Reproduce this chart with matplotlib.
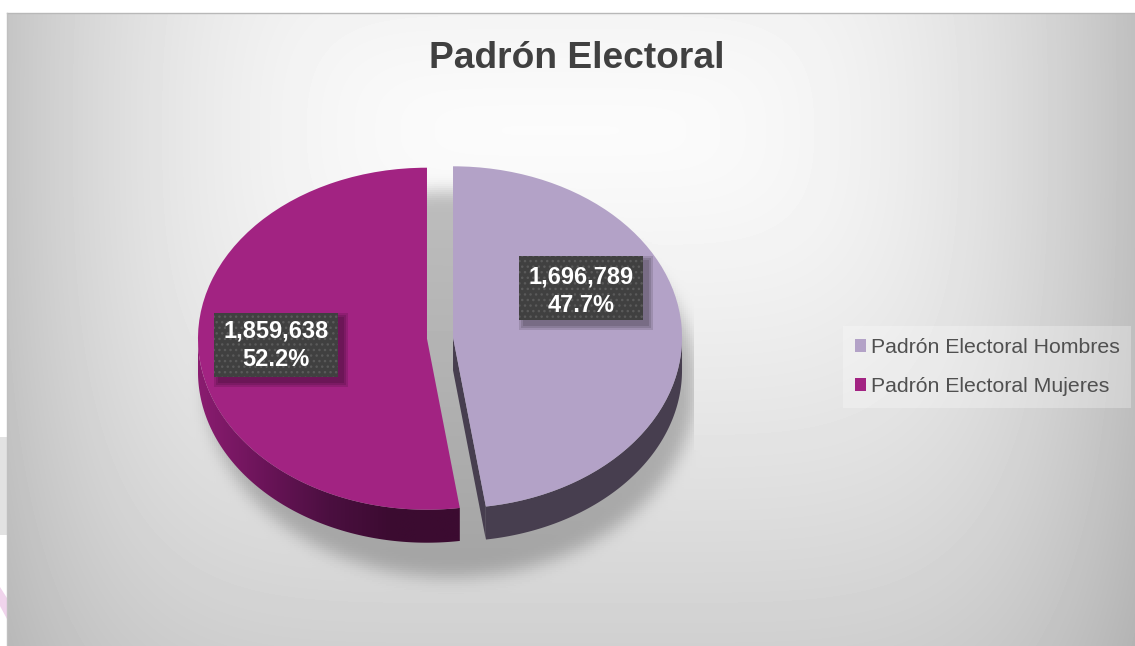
import numpy as np
import matplotlib
matplotlib.use("Agg")
import matplotlib.pyplot as plt
from matplotlib.colors import LinearSegmentedColormap
from matplotlib.patches import Polygon, Rectangle
from matplotlib.path import Path

plt.rcParams['font.family'] = ['Liberation Sans', 'DejaVu Sans']
plt.rcParams['hatch.linewidth'] = 1.0

title = "Padrón Electoral"
categories = ["Padrón Electoral Hombres", "Padrón Electoral Mujeres"]
values = [1696789, 1859638]
percent_labels = ["47.7%", "52.2%"]
top_colors = ["#b3a2c7", "#a22382"]

W, H = 1135, 646
PIE_X, PIE_Y = 440, 338      # centre of the pie, pixels
RX, RY = 229, 171            # squashed radii, pixels
DEPTH = 33 / RY              # pie thickness in pie units


def blur(img, size, passes=3):
    # repeated box blur, good enough for a soft shadow
    out = img.copy()
    kernel = np.ones(size) / size
    for _ in range(passes):
        out = np.apply_along_axis(lambda r: np.convolve(r, kernel, mode="same"), 1, out)
        out = np.apply_along_axis(lambda c: np.convolve(c, kernel, mode="same"), 0, out)
    return out


def fig_xy(px, py):
    return px / W, 1 - py / H


# background: soft grey gradient with the pie's shadow baked in
yy, xx = np.mgrid[0:H, 0:W]
drop_x = 0.235 * (np.abs(xx - 560) / 575) ** 2.6
drop_y = 0.17 * (np.abs(yy - 130) / 516) ** 1.2
bg = 0.985 - (drop_x ** 2.2 + drop_y ** 2.2) ** (1 / 2.2)

small_y, small_x = yy[::2, ::2], xx[::2, ::2]
mask = (((small_x - 447) / 245) ** 2 + ((small_y - 380) / 193) ** 2 < 1).astype(float)
mask = blur(mask, 8)
mask = np.repeat(np.repeat(mask, 2, axis=0), 2, axis=1)[:H, :W]
mask[(xx > 693) & (yy < 450)] = 0
bg = bg * (1 - 0.24 * mask)

fig = plt.figure(figsize=(W / 100, H / 100), dpi=100, facecolor="white")
ax = fig.add_axes([0, 0, 1, 1])
ax.imshow(bg, cmap="gray", vmin=0, vmax=1, extent=(0, W, H, 0), aspect="auto")
ax.set_xlim(0, W)
ax.set_ylim(H, 0)
ax.axis("off")

# stuff outside the chart frame: white margin and leftovers of the slide
ax.add_patch(Rectangle((0, 0), W, 13, fc="white", ec="none"))
ax.add_patch(Rectangle((0, 0), 7, H, fc="white", ec="none"))
ax.add_patch(Rectangle((0, 437), 7, 98, fc="#e2e2e2", ec="none"))
ax.add_patch(Polygon([(0, 587), (7, 598), (7, 619), (0, 606)], fc="#f0d4ec", ec="none"))
ax.plot([7, W], [13, 13], color="#b8b8b8", lw=1)
ax.plot([7, 7], [13, H], color="#c0c0c0", lw=1)

# pie axes covers the whole figure, x and y units are squashed to the ellipse radii
pie_ax = fig.add_axes([0, 0, 1, 1])
pie_ax.patch.set_alpha(0)
wedges, _ = pie_ax.pie(values, colors=top_colors, startangle=90, counterclock=False,
                       explode=[0.057, 0.057], radius=1)
for w in wedges:
    w.set_zorder(5)
    w.set_linewidth(0)

# side wall of each slice, lower half of the rim only
side_grad = [
    np.array([[0.45, 0.45]]),
    np.linspace(0, 1, 256).reshape(1, -1),
]
side_cmaps = [
    LinearSegmentedColormap.from_list("h", ["#473e4f", "#473e4f"]),
    LinearSegmentedColormap.from_list("m", ["#8a1c70", "#6b1459", "#4b0f40", "#3b0b30", "#3b0b30"]),
]
for w, grad, cmap in zip(wedges, side_grad, side_cmaps):
    t1, t2 = max(w.theta1, -180), min(w.theta2, 0)
    t = np.radians(np.linspace(t1, t2, 200))
    cx, cy = w.center
    arc_x, arc_y = cx + np.cos(t), cy + np.sin(t)
    pts = np.r_[np.c_[arc_x, arc_y], np.c_[arc_x[::-1], arc_y[::-1] - DEPTH]]
    side = Path(np.r_[pts, pts[:1]], closed=True)
    im = pie_ax.imshow(grad, cmap=cmap, vmin=0, vmax=1, aspect="auto", zorder=2,
                       extent=(arc_x.min(), arc_x.max(), arc_y.min() - DEPTH, arc_y.max()))
    im.set_clip_path(side, transform=pie_ax.transData)

# cut face of the right slice shows in the gap
right = wedges[0]
end = np.radians(right.theta1)
rim = (right.center[0] + np.cos(end), right.center[1] + np.sin(end))
pie_ax.add_patch(Polygon([right.center, rim, (rim[0], rim[1] - DEPTH),
                          (right.center[0], right.center[1] - DEPTH)],
                         fc="#473e4f", ec="none", zorder=3))

pie_ax.set_aspect("auto")
pie_ax.set_xlim(-PIE_X / RX, (W - PIE_X) / RX)
pie_ax.set_ylim(-(H - PIE_Y) / RY, PIE_Y / RY)

leg = pie_ax.legend(wedges, categories, loc="upper left",
                    bbox_to_anchor=fig_xy(843, 326), bbox_transform=fig.transFigure,
                    fontsize=15.3, labelcolor="#505050", frameon=True, fancybox=False,
                    facecolor="white", framealpha=0.28, edgecolor="none",
                    handlelength=0.55, handleheight=0.55, handletextpad=0.2,
                    labelspacing=0.96, borderpad=0.55, borderaxespad=0)
leg.set_zorder(10)

fig.text(*fig_xy(577, 58), title, ha="center", va="center", fontsize=26.7,
         fontweight="bold", color="#404040")

# data labels, box corner in pixels and nudge of the text
label_boxes = [(519, 256, 3), (214, 313, 0)]
BOX_W, BOX_H = 124, 64
for (bx, by, nudge), v, p in zip(label_boxes, values, percent_labels):
    # soft drop shadow, stacked faint rectangles
    for grow in (5, 3, 1):
        sx, sy = fig_xy(bx + 5 - grow, by + BOX_H + 5 + grow)
        fig.add_artist(Rectangle((sx, sy), (BOX_W + 2 * grow) / W, (BOX_H + 2 * grow) / H,
                                 transform=fig.transFigure, fc="black", alpha=0.12, ec="none", zorder=6))
    x0, y0 = fig_xy(bx, by + BOX_H)
    fig.add_artist(Rectangle((x0, y0), BOX_W / W, BOX_H / H, transform=fig.transFigure,
                             fc="#404040", ec="#5a5a5a", lw=0, hatch="...", zorder=7))
    fig.text(*fig_xy(bx + BOX_W / 2, by + BOX_H / 2 + nudge), f"{v:,}\n{p}", ha="center", va="center",
             fontsize=17, fontweight="bold", color="white", linespacing=1.32, zorder=8)

fig.savefig("out.png", dpi=100)
